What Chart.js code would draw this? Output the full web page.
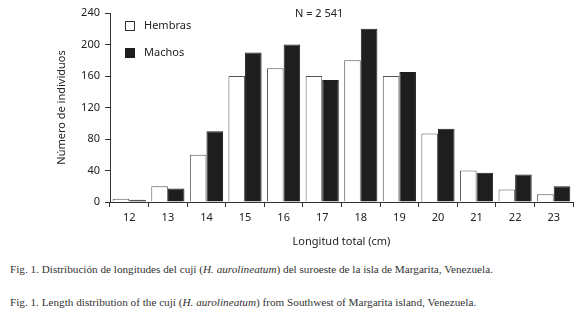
<!DOCTYPE html>
<html>
<head>
<meta charset="utf-8">
<script src="https://cdn.jsdelivr.net/npm/chart.js@4"></script>
<style>
  body { margin: 0; background: #fff; width: 580px; height: 317px; position: relative; overflow: hidden; }
  #wrap { position: absolute; left: 0; top: 0; width: 580px; height: 252px; }
  .lbl { position: absolute; font-family: "Noto Sans", sans-serif; font-size: 11px; color: #222; white-space: nowrap; }
  .box { position: absolute; width: 10px; height: 10px; box-sizing: border-box; }
  .cap { position: absolute; left: 10px; font-family: "Liberation Serif", serif; font-size: 11.2px; color: #333; white-space: nowrap; }
</style>
</head>
<body>
<div id="wrap"><canvas id="lengthChart" width="580" height="252"></canvas></div>

<!-- legend and sample size -->
<div class="box" style="left:125px; top:21px; border:1px solid #333; background:#fff;"></div>
<div class="lbl" style="left:144px; top:17px;">Hembras</div>
<div class="box" style="left:125px; top:48px; background:#1e1e1e;"></div>
<div class="lbl" style="left:144px; top:44px;">Machos</div>
<div class="lbl" style="left:295px; top:5px;">N = 2 541</div>

<div class="cap" style="top:263px;">Fig. 1. Distribución de longitudes del cují (<i>H. aurolineatum</i>) del suroeste de la isla de Margarita, Venezuela.</div>
<div class="cap" style="top:296px;">Fig. 1. Length distribution of the cují (<i>H. aurolineatum</i>) from Southwest of Margarita island, Venezuela.</div>

<script>
// Length classes (cm)
const lengthClasses = ['12', '13', '14', '15', '16', '17', '18', '19', '20', '21', '22', '23'];
// Counts per class
const hembras = [4, 20, 60, 160, 170, 160, 180, 160, 87, 40, 16, 10];
const machos = [3, 17, 90, 190, 200, 155, 220, 165, 93, 37, 35, 20];
// Y axis ticks
const yMax = 240;
const yStep = 40;

const textColor = '#222';
const axisColor = '#333';
const baseFont = { family: '"Noto Sans", sans-serif', size: 11 };

document.addEventListener('DOMContentLoaded', function() {
    const ctx = document.getElementById('lengthChart').getContext('2d');

    new Chart(ctx, {
        type: 'bar',
        data: {
            labels: lengthClasses,
            datasets: [
                {
                    label: 'Hembras',
                    data: hembras,
                    backgroundColor: '#ffffff',
                    borderColor: '#555555',
                    borderWidth: 1,
                    categoryPercentage: 0.86,
                    barPercentage: 1.0
                },
                {
                    label: 'Machos',
                    data: machos,
                    backgroundColor: '#1e1e1e',
                    borderColor: '#1e1e1e',
                    borderWidth: 1,
                    categoryPercentage: 0.86,
                    barPercentage: 1.0
                }
            ]
        },
        options: {
            responsive: false,
            animation: false,
            layout: { padding: { left: 0, right: 7, top: 13, bottom: 0 } },
            plugins: {
                legend: { display: false },
                tooltip: { enabled: false }
            },
            scales: {
                x: {
                    grid: { drawOnChartArea: false, drawTicks: true, tickLength: 5, color: axisColor },
                    border: { color: axisColor, width: 1 },
                    ticks: { color: textColor, font: baseFont, padding: 4, maxRotation: 0 },
                    title: { display: true, text: 'Longitud total (cm)', color: textColor, font: baseFont, padding: { top: 0, bottom: 4 } },
                    afterFit: function(scale) { scale.height = 50; }
                },
                y: {
                    min: 0,
                    max: yMax,
                    grid: { drawOnChartArea: false, drawTicks: true, tickLength: 5, color: axisColor },
                    border: { color: axisColor, width: 1 },
                    ticks: { stepSize: yStep, color: textColor, font: baseFont, padding: 5 },
                    title: { display: true, text: 'Número de individuos', color: textColor, font: baseFont, padding: { top: 55, bottom: 0 } },
                    afterFit: function(scale) { scale.width = 110; }
                }
            }
        }
    });
});
</script>
</body>
</html>
